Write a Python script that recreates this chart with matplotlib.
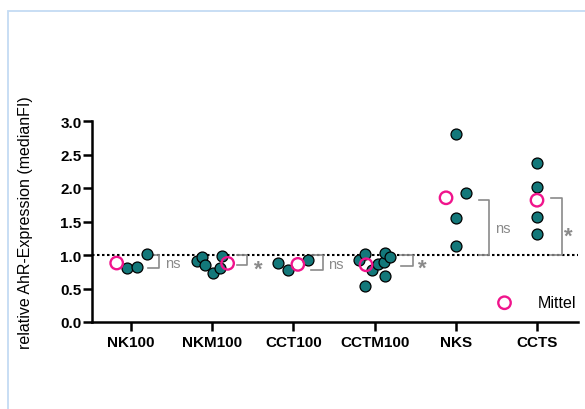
import matplotlib
matplotlib.use("Agg")
import matplotlib.pyplot as plt
from matplotlib.patches import Rectangle

# Data

groups = ["NK100", "NKM100", "CCT100", "CCTM100", "NKS", "CCTS"]

nk100 = [0.80, 0.82, 1.02]
nkm100 = [0.906, 0.966, 0.856, 0.733, 0.80, 0.99]
cct100 = [0.88, 0.77, 0.93]
cctm100 = [0.93, 1.01, 0.78, 0.535, 0.86, 0.89, 1.03, 0.97, 0.68]
nks = [2.81, 1.92, 1.545, 1.14]
ccts = [2.38, 2.02, 1.56, 1.31]
values = [nk100, nkm100, cct100, cctm100, nks, ccts]

significance = ["ns", "*", "ns", "*", "ns", "*"]
# far end of each bracket (other end sits on the 1.0 line)
bracket_end = [0.81, 0.85, 0.78, 0.84, 1.82, 1.85]
label_y = [0.88, 0.87, 0.87, 0.89, 1.40, 1.36]

# Layout of the scatter (horizontal spread, in category units)
offsets = [
    [-0.053, 0.078, 0.20],
    [-0.19, -0.12, -0.09, 0.004, 0.095, 0.12],
    [-0.19, -0.07, 0.18],
    [-0.197, -0.124, -0.032, -0.119, 0.037, 0.115, 0.128, 0.193, 0.128],
    [0.0, 0.128, 0.0, 0.0],
    [0.0, 0.0, 0.0, 0.0],
]
mean_offset = [-0.176, 0.19, 0.055, -0.105, -0.12, 0.0]
bracket_x = [(0.21, 0.345), (0.31, 0.43), (0.22, 0.36),
             (0.33, 0.47), (0.28, 0.41), (0.17, 0.31)]
label_x = [0.42, 0.52, 0.43, 0.53, 0.48, 0.33]

teal = "#13787a"
pink = "#f0148c"
grey = "#8a8a8a"

plt.rcParams['font.family'] = ['Liberation Sans', 'DejaVu Sans']

fig = plt.figure(figsize=(5.85, 4.10), dpi=100)
ax = fig.add_axes([92 / 585, 1 - 323 / 410, 486 / 585, 201 / 410])

# light blue frame around the panel
fig.patches.append(Rectangle((8 / 585, -0.05), 1.1, 1 - 12 / 410 + 0.05,
                             transform=fig.transFigure, fill=False,
                             edgecolor="#c4dbf3", linewidth=1.3))

ax.axhline(1.0, color="black", linestyle=(0, (1.2, 1.2)), linewidth=1.5, zorder=1)

for i, vals in enumerate(values):
    xs = [i + o for o in offsets[i]]
    ax.scatter(xs, vals, s=62, color=teal, edgecolor="black",
               linewidth=0.9, zorder=3, clip_on=False)

    mean = sum(vals) / len(vals)
    h = ax.scatter([i + mean_offset[i]], [mean], s=80, facecolor="none",
                   edgecolor=pink, linewidth=1.7, zorder=4, clip_on=False)

    x0, x1 = bracket_x[i]
    y1 = bracket_end[i]
    ax.plot([i + x0, i + x1, i + x1, i + x0], [1.0, 1.0, y1, y1],
            color=grey, linewidth=1.2, zorder=2)
    if significance[i] == "*":
        ax.text(i + label_x[i], label_y[i] - 0.08, "*", color=grey,
                fontsize=16, fontweight="bold", ha="left", va="center")
    else:
        ax.text(i + label_x[i], label_y[i], "ns", color=grey,
                fontsize=10.5, ha="left", va="center")

ax.legend([h], ["Mittel"], loc="lower right", bbox_to_anchor=(0.997, 0.06),
          frameon=False, fontsize=11.5, handletextpad=1.1,
          borderpad=0, borderaxespad=0)

ax.set_xlim(-0.48, 5.505)
ax.set_ylim(0, 3.0)
ax.set_xticks(range(len(groups)))
ax.set_xticklabels(groups, fontweight="bold", fontsize=11)
ax.set_yticks([0.0, 0.5, 1.0, 1.5, 2.0, 2.5, 3.0])
ax.set_yticklabels(["0.0", "0.5", "1.0", "1.5", "2.0", "2.5", "3.0"],
                   fontweight="bold", fontsize=11)
ax.tick_params(axis="both", width=1.8, length=6.5, pad=1)
ax.tick_params(axis="x", pad=3)

for side in ["top", "right"]:
    ax.spines[side].set_visible(False)
for side in ["left", "bottom"]:
    ax.spines[side].set_linewidth(1.8)

ax.set_ylabel("relative AhR-Expression (medianFI)", fontsize=11.5)
ax.yaxis.set_label_coords(-0.121, 0.5)

fig.savefig("out.png", dpi=100)
